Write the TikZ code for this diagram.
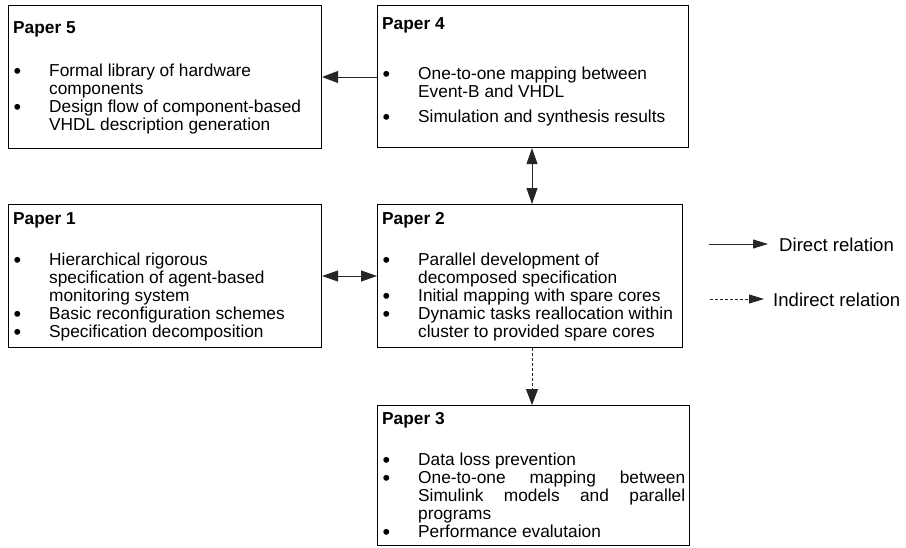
\documentclass[tikz,border=0pt]{standalone}
\usepackage{fontspec}
\setmainfont{Liberation Sans}
\usetikzlibrary{arrows.meta}

% bullet of a list entry
\newcommand{\bul}{\hspace*{0.5pt}\smash{\raisebox{-2.8pt}{\scalebox{1.25}{\textbullet}}}}

\begin{document}
\begin{tikzpicture}[x=1pt,y=-1pt,
  paperbox/.style={draw=black, line width=1.1pt, rectangle, inner sep=0pt, anchor=north west},
  papertext/.style={anchor=base west, inner sep=0pt, font=\fontsize{17.3}{18}\selectfont},
  relation/.style={line width=0.9pt, draw=black!85},
  bigtip/.style={-{Triangle[length=16pt,width=12pt]}},
  bothtips/.style={{Triangle[length=16pt,width=11pt]}-{Triangle[length=16pt,width=11pt]}},
  legendtip/.style={-{Triangle[length=15pt,width=9pt]}},
  legendtext/.style={anchor=base west, inner sep=0pt, font=\fontsize{18.6}{20}\selectfont},
]
\useasboundingbox (0,0) rectangle (906,547);

% ---- boxes ----
\node[paperbox, minimum width=313pt, minimum height=143pt] (p5) at (8,5) {};
\node[paperbox, minimum width=311pt, minimum height=142pt] (p4) at (377,5) {};
\node[paperbox, minimum width=313pt, minimum height=143pt] (p1) at (8,204) {};
\node[paperbox, minimum width=305pt, minimum height=143pt] (p2) at (377,204) {};
\node[paperbox, minimum width=312pt, minimum height=140pt] (p3) at (377,405) {};

% ---- box contents ----
\node[papertext] (t5) at ([shift={(5,28)}]p5.north west) {%
\begin{tabular}[t]{@{}p{36pt}@{}l@{}}
\multicolumn{2}{@{}l@{}}{\textbf{Paper 5}}\\[25pt]
\bul & Formal library of hardware\\
     & components\\
\bul & Design flow of component-based\\
     & VHDL description generation
\end{tabular}};

\node[papertext] (t4) at ([shift={(5,24)}]p4.north west) {%
\begin{tabular}[t]{@{}p{36pt}@{}l@{}}
\multicolumn{2}{@{}l@{}}{\textbf{Paper 4}}\\[32pt]
\bul & One-to-one mapping between\\
     & Event-B and VHDL\\[7pt]
\bul & Simulation and synthesis results
\end{tabular}};

\node[papertext] (t1) at ([shift={(5,20)}]p1.north west) {%
\begin{tabular}[t]{@{}p{36pt}@{}l@{}}
\multicolumn{2}{@{}l@{}}{\textbf{Paper 1}}\\[23pt]
\bul & Hierarchical rigorous\\
     & specification of agent-based\\
     & monitoring system\\
\bul & Basic reconfiguration schemes\\
\bul & Specification decomposition
\end{tabular}};

\node[papertext] (t2) at ([shift={(5,20)}]p2.north west) {%
\begin{tabular}[t]{@{}p{36pt}@{}l@{}}
\multicolumn{2}{@{}l@{}}{\textbf{Paper 2}}\\[23pt]
\bul & Parallel development of\\
     & decomposed specification\\
\bul & Initial mapping with spare cores\\
\bul & Dynamic tasks reallocation within\\
     & cluster to provided spare cores
\end{tabular}};

\node[papertext] (t3) at ([shift={(5,19)}]p3.north west) {%
\begin{tabular}[t]{@{}p{36pt}@{}l@{}}
\multicolumn{2}{@{}l@{}}{\textbf{Paper 3}}\\[23pt]
\bul & Data loss prevention\\
\bul & \makebox[267pt][s]{One-to-one\hfill mapping\hfill between}\\
     & \makebox[267pt][s]{Simulink\hfill models\hfill and\hfill parallel}\\
     & programs\\
\bul & Performance evalutaion
\end{tabular}};

% ---- connectors ----
\coordinate (a54) at (p4.west |- 0,77);
\draw[relation, bigtip] (a54) -- (a54 -| p5.east);
\coordinate (a12) at (p1.east |- 0,276);
\draw[relation, bothtips] (a12) -- (a12 -| p2.west);
\coordinate (a42) at (532,0 |- p4.south);
\draw[relation, bothtips] (a42) -- (a42 |- p2.north);
\coordinate (a23) at (532,0 |- p2.south);
\draw[relation, bigtip, dash pattern=on 3pt off 2pt] (a23) -- (a23 |- p3.north);

% ---- legend ----
\coordinate (ld1) at (709,244);
\coordinate (ld2) at (768,244);
\draw[relation, legendtip] (ld1) -- (ld2);
\node[legendtext] (ldt) at (779,251) {Direct relation};
\coordinate (li1) at (710,299);
\coordinate (li2) at (764,299);
\draw[relation, legendtip, dash pattern=on 3pt off 2pt] (li1) -- (li2);
\node[legendtext] (lit) at (773,306) {Indirect relation};
\end{tikzpicture}
\end{document}
